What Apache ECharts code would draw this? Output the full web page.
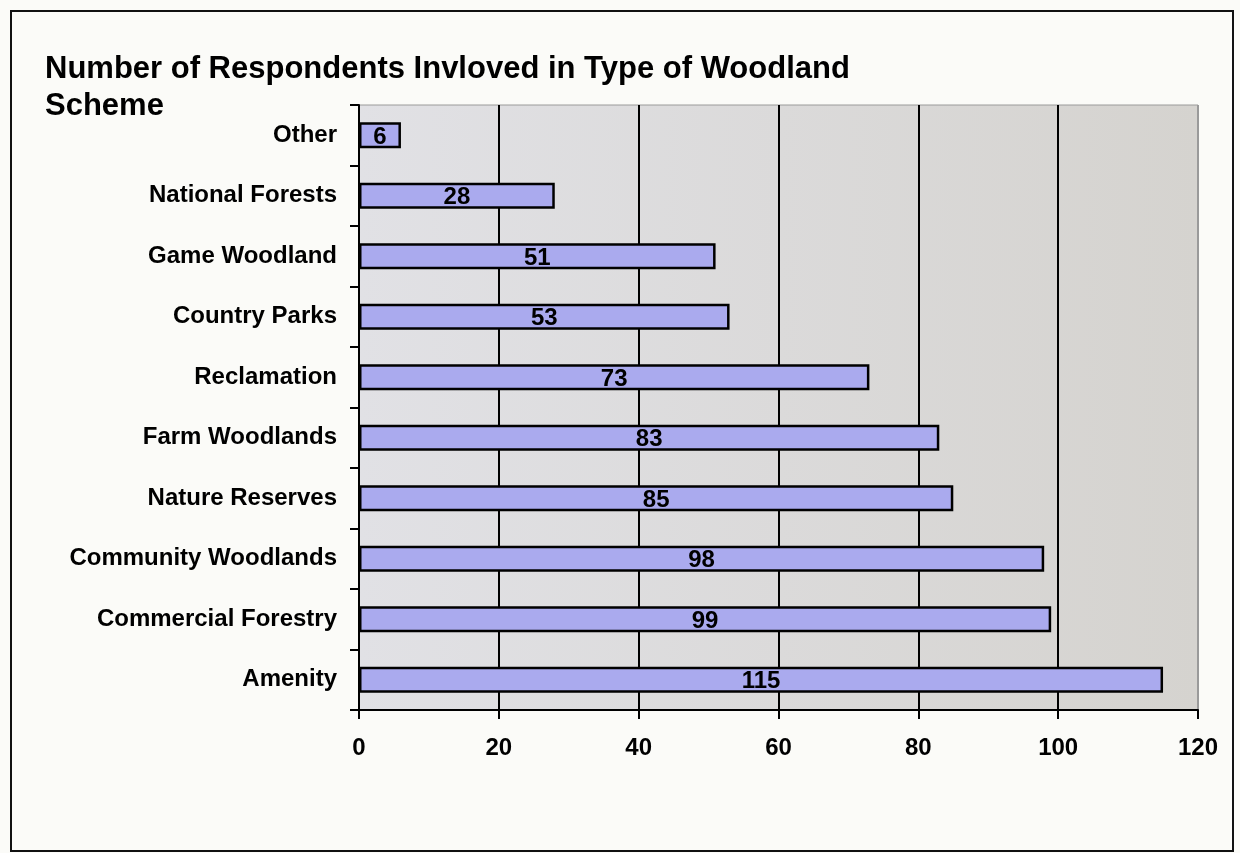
<!DOCTYPE html>
<html>
<head>
<meta charset="utf-8">
<script src="https://cdn.jsdelivr.net/npm/echarts@6/dist/echarts.min.js"></script>
<style>
  html, body { margin: 0; padding: 0; background: #fbfbf8; }
  #frame {
    position: absolute; left: 10px; top: 10px; width: 1220px; height: 838px;
    border: 2px solid #111; background: #fbfbf8;
  }
  #chart { position: absolute; left: 0; top: 0; width: 1240px; height: 853px; }
</style>
</head>
<body>
<div id="frame"></div>
<div id="chart"></div>
<script>
// 类别与数值
var categories = ['Other', 'National Forests', 'Game Woodland', 'Country Parks', 'Reclamation',
  'Farm Woodlands', 'Nature Reserves', 'Community Woodlands', 'Commercial Forestry', 'Amenity'];
var respondents = [6, 28, 51, 53, 73, 83, 85, 98, 99, 115];
var xTicks = [0, 20, 40, 60, 80, 100, 120];

var chart = echarts.init(document.getElementById('chart'));
var font = '"Liberation Sans", Arial, sans-serif';

var option = {
  animation: false,
  title: {
    text: 'Number of Respondents Invloved in Type of Woodland\nScheme',
    left: 40,
    top: 46,
    textStyle: {
      fontFamily: font, fontWeight: 'bold', fontSize: 31, color: '#000', lineHeight: 37
    }
  },
  grid: {
    left: 359, right: 42, top: 105, bottom: 143,
    show: true,
    backgroundColor: new echarts.graphic.LinearGradient(0, 0, 1, 0, [
      { offset: 0, color: '#e1e1e5' },
      { offset: 1, color: '#d5d3cf' }
    ]),
    borderColor: '#9a9a9a',
    borderWidth: 1
  },
  xAxis: {
    type: 'value',
    min: xTicks[0],
    max: xTicks[xTicks.length - 1],
    interval: 20,
    axisLine: { show: true, lineStyle: { color: '#000', width: 2 } },
    axisTick: { show: true, length: 9, lineStyle: { color: '#000', width: 2 } },
    axisLabel: {
      margin: 26, fontFamily: font, fontWeight: 'bold', fontSize: 24, color: '#000'
    },
    splitLine: {
      show: true,
      lineStyle: { color: ['#000', '#000', '#000', '#000', '#000', '#000', '#9a9a9a'], width: 2 }
    }
  },
  yAxis: {
    type: 'category',
    data: categories,
    inverse: true,
    axisLine: { show: true, lineStyle: { color: '#000', width: 2 } },
    axisTick: { show: true, length: 9, lineStyle: { color: '#000', width: 2 } },
    axisLabel: {
      margin: 22, fontFamily: font, fontWeight: 'bold', fontSize: 24, color: '#000'
    }
  },
  series: [{
    type: 'bar',
    data: respondents,
    barWidth: 26,
    itemStyle: { color: '#aaaaee', borderColor: '#000', borderWidth: 2.5 },
    label: {
      show: true,
      position: 'inside',
      offset: [0, 2],
      fontFamily: font, fontWeight: 'bold', fontSize: 24, color: '#000'
    }
  }]
};

chart.setOption(option);
</script>
</body>
</html>
